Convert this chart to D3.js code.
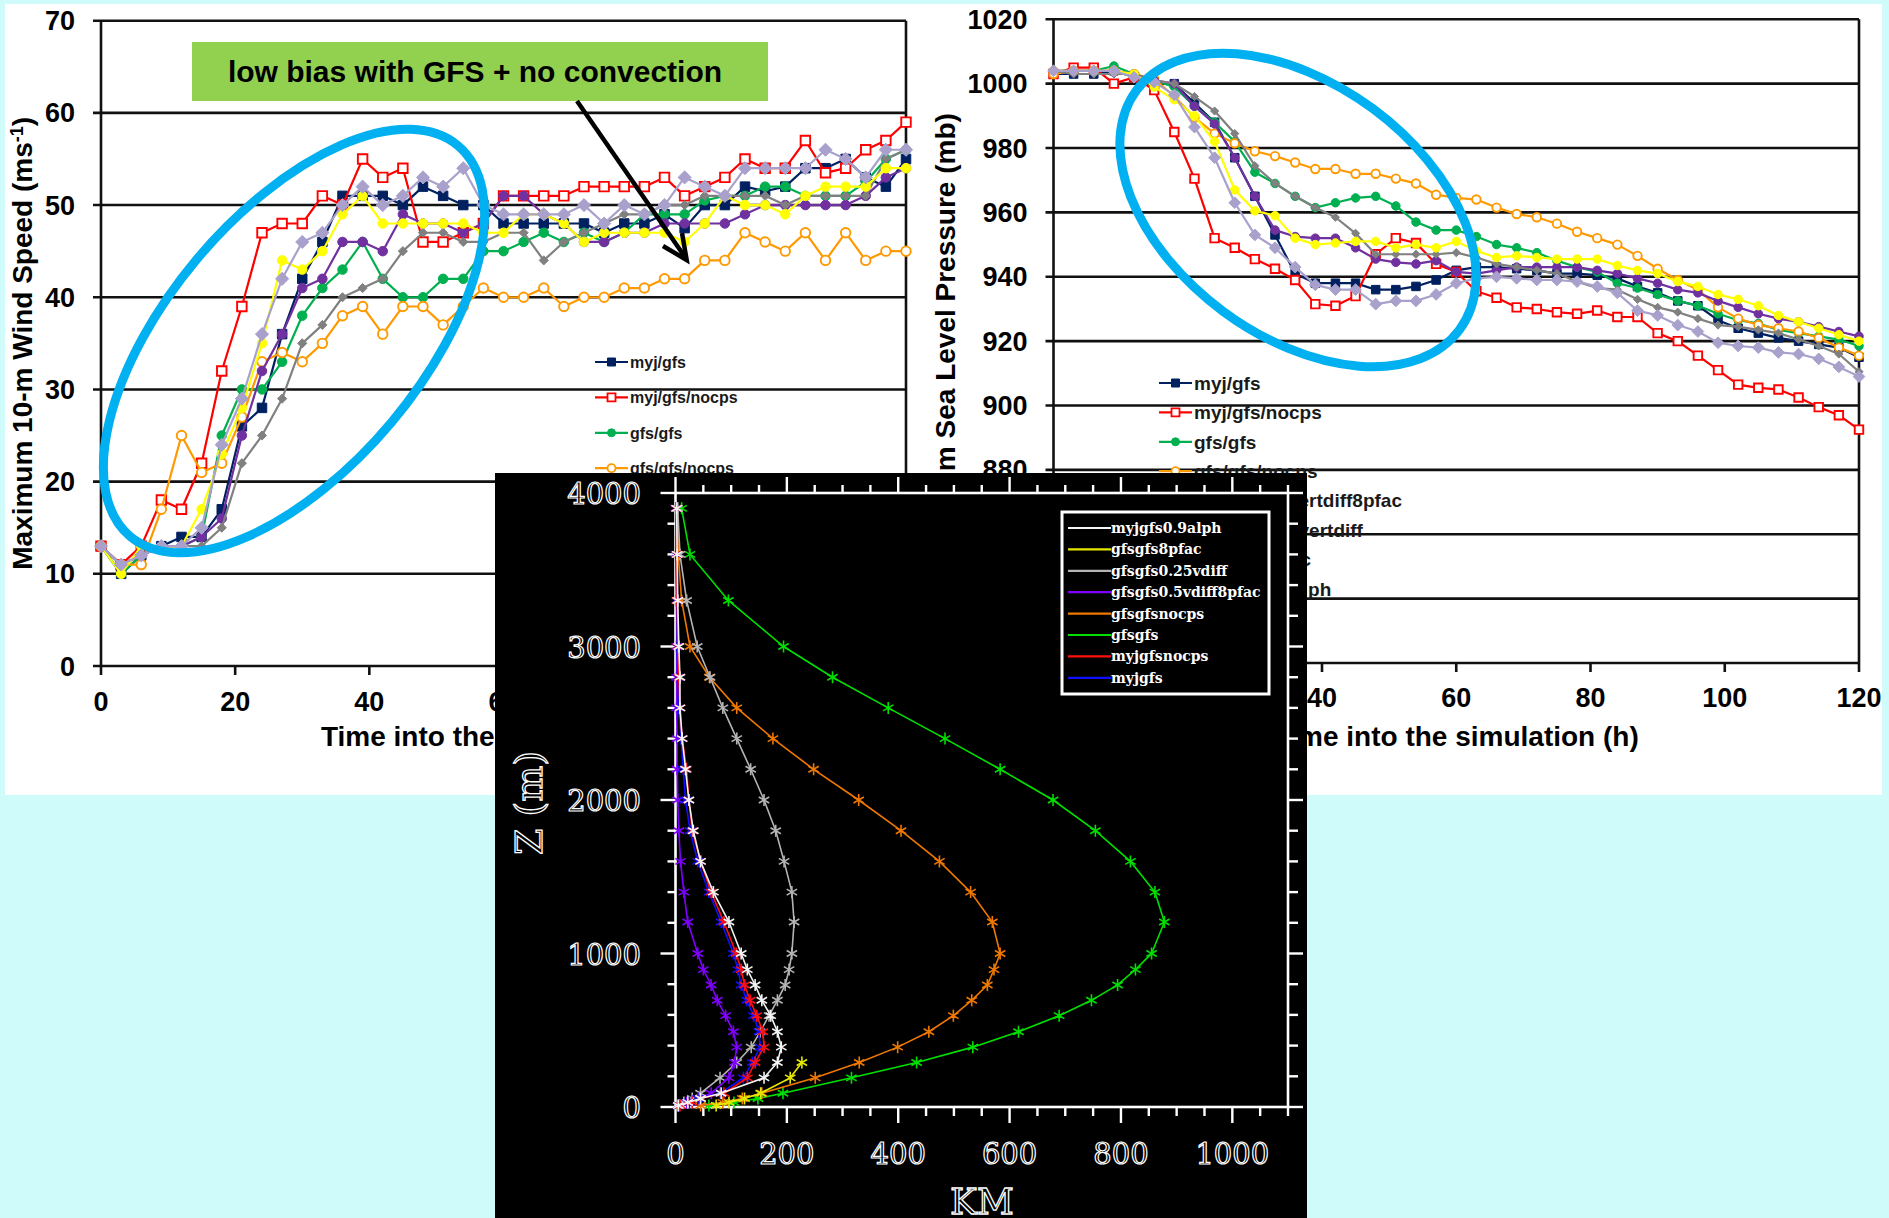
<!DOCTYPE html>
<html><head><meta charset="utf-8">
<script src="https://cdn.jsdelivr.net/npm/d3@7"></script>
<style>html,body{margin:0;padding:0;background:#d0fbfb;} svg{display:block}</style>
</head><body>
<svg id="fig" width="1889" height="1218"></svg>
<script>
// ---------- data ----------
const hours = d3.range(0, 121, 3);
const seriesNames = ["myj/gfs", "myj/gfs/nocps", "gfs/gfs", "gfs/gfs/nocps",
  "gfs/gfs/0.5vertdiff8pfac", "gfs/gfs/0.25vertdiff", "gfs/gfs/8pfac", "myj/gfs/0.9alph"];

// maximum 10-m wind speed (m/s)
const windMyjGfs = [13,10,12,13,14,14,17,26,28,36,42,46,51,51,51,50,52,51,50,50,48,
  48,48,48,48,47,48,48,49,47.5,50,50,52,51.5,52,54,54,55,53,52,55];
const windMyjGfsNocps = [13,11,13,18,17,22,32,39,47,48,48,51,50,55,53,54,46,46,47,48,51,
  51,51,51,52,52,52,52,53,51,52,53,55,54,54,57,53.5,54,56,57,59];
const windGfsGfs = [13,10,12,13,13,14,25,30,30,33,38,41,43,46,42,40,40,42,42,45,45,
  46,47,46,47,46,47,49,49,49,50.5,51,51,52,52,51,51,51,52.5,55,56];
const windGfsGfsNocps = [13,11,11,17,25,21,22,27,33,34,33,35,38,39,36,39,39,37,39,41,40,
  40,41,39,40,40,41,41,42,42,44,44,47,46,45,47,44,47,44,45,45];
const windVd05Pfac8 = [13,11,12,13,13,14,16,25,32,36,41,42,46,46,45,49,48,48,47,48,51,
  51,49,48,46,46,47,47,48,48,48,48,49,50,50,50,50,50,51,53,54];
const windVd025 = [13,11,12,13,13,13,15,22,25,29,35,37,40,41,42,45,47,47,46,46,47,
  47,44,46,47,48,49,49,50,50,51,51,51,51,50,51,51,51,51,55,56];
const windPfac8 = [13,10,13,13,13,17,23,28,35,44,43,45,49,51,48,48,48,48,48,47,47,
  49,49,48,46,47,47,47,47,46,48,51,50,50,49,51,52,52,52,54,54];
const windAlph09 = [13,11,12,13,13,15,24,29,36,42,46,47,50,52,50,51,53,52,54,50,49,
  49,49,49,50,48,50,49,50,53,52,51,54,54,54,54,56,55,53,56,56];

// minimum sea level pressure (mb)
const presMyjGfs = [1003,1003,1003,1004,1002,1000,1000,994,988,977,965,953,941,938,938,938,936,936,937,
  939,942,943,943,942.5,942,941,941,940.5,939.5,937,935,932.5,931,926.5,924,922.5,921,920,919,918,915];
const presMyjGfsNocps = [1003,1005,1005,1000,1002,998,985,970.5,952,949,945.5,942.5,939,931.5,931,934,947,952,950.5,
  944,941.5,935.5,933.5,930.5,930,929,928.5,929.5,927.5,927.5,922.5,920,915.5,911,906.5,905.5,905,902.5,899.5,897,892.5];
const presGfsGfs = [1004,1004,1004,1005.5,1003,1001,999,993,988,982,972.5,969,965,961.5,963,964.5,965,962,957,
  954.5,954.5,952.5,950,949,947.5,945,943,941.5,938,936.5,934.5,932.5,931,928.5,926.5,925.5,923.5,922.5,921.5,920.5,918.5];
const presGfsGfsNocps = [1003,1004,1004,1004,1003,1001.5,996,989.5,984.5,981.5,979,977.5,975.5,973.5,973.5,972,972,970.5,969,
  965.5,964.5,964,961.5,959.5,958.5,956.5,954,952,950,946.5,942.5,939,936,930.5,927,925,924,923,921,918,915.5];
const presVd05Pfac8 = [1004,1004,1004,1004,1003,1001,1000,993,987.5,977,965,954.5,952.5,952,952,949,945.5,944.5,944,
  945,941.5,941,942,943,943,943,943,942,941,939.5,938,936,935,932.5,930.5,928.5,927,926,924.5,923,921.5];
const presVd025 = [1004,1003,1003,1003,1003,1001,1000,996,991.5,984.5,974.5,969,965,961.5,958.5,953.5,947,947,947,
  947,947.5,946,944,943,942,941,938.5,936.5,936,933,930.5,929,927,925,924.5,923.5,922.5,920.5,918.5,916,910.5];
const presPfac8 = [1004,1004,1004,1004,1003,999,995,990,982,967,960.5,959,952,950,950.5,951,951,949,950,
  949,951,948,946,946.5,946,945.5,945.5,945.5,943.5,942,941,938.5,937,934.5,933,931,928,926,924,922,920];
const presAlph09 = [1004,1004,1004,1004,1002,1000.5,996.5,986.5,977,963,953,949,943,937.5,936,936,931.5,932.5,932.5,
  934.5,938,939.5,940,939.5,939,939,938.5,937,935,929.5,928,925,923,919.5,918.5,918,916.5,916,914.5,912,909];

const windSeries = [windMyjGfs, windMyjGfsNocps, windGfsGfs, windGfsGfsNocps, windVd05Pfac8, windVd025, windPfac8, windAlph09];
const presSeries = [presMyjGfs, presMyjGfsNocps, presGfsGfs, presGfsGfsNocps, presVd05Pfac8, presVd025, presPfac8, presAlph09];

const windTicks = [0, 10, 20, 30, 40, 50, 60, 70];
const presTicks = [820, 840, 860, 880, 900, 920, 940, 960, 980, 1000, 1020];
const hourTicks = [0, 20, 40, 60, 80, 100, 120];

// vertical profiles: height (m) vs radius (km)
const levels = [10,30,55,90,190,290,390,490,595,695,795,895,1000,1205,1400,1600,1800,2000,2200,2400,2600,2800,3000,3300,3600,3900];
const profileNames = ["myjgfs0.9alph", "gfsgfs8pfac", "gfsgfs0.25vdiff", "gfsgfs0.5vdiff8pfac", "gfsgfsnocps", "gfsgfs", "myjgfsnocps", "myjgfs"];
const kmAlph09 = [5,22,45,82,159,183,190,183,171,155,143,129,118,96,68,45,32,24,18,12,8,8,6,4,3,2];
const kmPfac8 = [73,96,124,153,206,227];
const kmVd025 = [5,15,30,45,80,110,136,152,168,183,197,204,209,213,209,195,180,159,135,110,85,62,39,20,8,4];
const kmVd05Pfac8 = [5,20,40,64,96,106,110,104,90,75,64,50,40,22,15,9,6,4,3,3,2,2,2,2,1,1];
const kmGfsNocps = [45,85,120,155,251,330,399,455,499,532,560,572,583,569,530,474,405,329,248,175,110,61,26,11,5,3];
const kmGfs = [60,105,148,193,316,433,534,616,689,747,794,826,855,878,861,817,754,678,583,484,382,282,194,95,26,11];
const kmMyjNocps = [8,30,45,87,129,143,159,157,146,134,124,118,109,87,64,45,30,24,20,12,8,6,4,3,2,1];
const kmMyj = [6,25,40,80,122,138,152,150,140,128,118,112,104,82,60,40,26,18,14,10,6,4,3,2,1,1];
const profileSeries = [kmAlph09, kmPfac8, kmVd025, kmVd05Pfac8, kmGfsNocps, kmGfs, kmMyjNocps, kmMyj];
const kmTicks = [0, 200, 400, 600, 800, 1000];
const zTicks = [0, 1000, 2000, 3000, 4000];

// ---------- styles ----------
const seriesStyle = [
  {color: "#002060", shape: "square", open: false},
  {color: "#ff0000", shape: "square", open: true},
  {color: "#00b050", shape: "circle", open: false},
  {color: "#ff9900", shape: "circle", open: true},
  {color: "#7030a0", shape: "circle", open: false},
  {color: "#808080", shape: "diamond", open: false, scale: 0.8},
  {color: "#ffff00", shape: "circle", open: false},
  {color: "#a9a1cc", shape: "diamond", open: false, scale: 1.15}
];
const profileColor = ["#f4f4f4", "#e6e600", "#b4b4b4", "#8000ff", "#f07800", "#00e000", "#ff1010", "#1010ff"];
const drawOrder = [0, 1, 2, 3, 4, 5, 6, 7];

const SANS = "'Liberation Sans', Arial, sans-serif";
const svg = d3.select("#fig");

svg.append("rect").attr("width", 1889).attr("height", 1218).attr("fill", "#d0fbfb");
svg.append("rect").attr("x", 5).attr("y", 4).attr("width", 1877).attr("height", 791).attr("fill", "#ffffff");

function markerPath(shape, s) {
  const h = s / 2;
  if (shape === "square") return `M${-h},${-h}h${s}v${s}h${-s}Z`;
  if (shape === "diamond") return `M0,${-h * 1.2}L${h * 1.2},0L0,${h * 1.2}L${-h * 1.2},0Z`;
  return d3.symbol(d3.symbolCircle, Math.PI * h * h)();
}

function lineChart(o) {
  const g = svg.append("g");
  const x = d3.scaleLinear([0, 120], [o.x0, o.x1]);
  const y = d3.scaleLinear(o.yDomain, [o.yBottom, o.yTop]);
  // gridlines
  o.yTicks.forEach(v => {
    g.append("line").attr("x1", o.x0 - 8).attr("x2", o.x1).attr("y1", y(v)).attr("y2", y(v))
      .attr("stroke", "#111").attr("stroke-width", 2.6);
    g.append("text").attr("x", o.x0 - 26).attr("y", y(v) + 9.5).attr("text-anchor", "end")
      .attr("font-family", SANS).attr("font-weight", "bold").attr("font-size", 27).attr("fill", "#000").text(v);
  });
  g.append("line").attr("x1", o.x0).attr("x2", o.x0).attr("y1", o.yTop).attr("y2", o.yBottom)
    .attr("stroke", "#111").attr("stroke-width", 2.6);
  g.append("line").attr("x1", o.x1).attr("x2", o.x1).attr("y1", o.yTop).attr("y2", o.yBottom)
    .attr("stroke", "#111").attr("stroke-width", 2.6);
  hourTicks.forEach(h => {
    g.append("line").attr("x1", x(h)).attr("x2", x(h)).attr("y1", o.yBottom).attr("y2", o.yBottom + 9)
      .attr("stroke", "#111").attr("stroke-width", 2.6);
    g.append("text").attr("x", x(h)).attr("y", o.yBottom + o.xLabelDy).attr("text-anchor", "middle")
      .attr("font-family", SANS).attr("font-weight", "bold").attr("font-size", 27).attr("fill", "#000").text(h);
  });
  g.append("text").attr("x", (o.x0 + o.x1) / 2).attr("y", 746).attr("text-anchor", "middle")
    .attr("font-family", SANS).attr("font-weight", "bold").attr("font-size", 28).attr("fill", "#000")
    .text("Time into the simulation (h)");
  const yt = g.append("text").attr("transform", `translate(${o.titleX},${(o.yTop + o.yBottom) / 2}) rotate(-90)`)
    .attr("text-anchor", "middle").attr("font-family", SANS).attr("font-weight", "bold")
    .attr("font-size", 28).attr("fill", "#000");
  o.yTitle(yt);

  // legend
  seriesNames.forEach((name, i) => {
    const st = seriesStyle[i];
    const ly = o.legY + i * o.legDy;
    g.append("line").attr("x1", o.legX0).attr("x2", o.legX1).attr("y1", ly).attr("y2", ly)
      .attr("stroke", st.color).attr("stroke-width", 2.2);
    g.append("path").attr("d", markerPath(st.shape, o.legMark * (st.scale || 1)))
      .attr("transform", `translate(${(o.legX0 + o.legX1) / 2},${ly})`)
      .attr("fill", st.open ? "#fff" : st.color).attr("stroke", st.color).attr("stroke-width", st.open ? 1.8 : 1);
    g.append("text").attr("x", o.legX1 + 2).attr("y", ly + o.legFont * 0.36)
      .attr("font-family", SANS).attr("font-weight", "bold").attr("font-size", o.legFont).attr("fill", "#1a1a1a")
      .text(name);
  });

  // series
  const line = d3.line().x((d, i) => x(hours[i])).y(d => y(d));
  drawOrder.forEach(i => {
    const st = seriesStyle[i];
    const vals = o.series[i];
    g.append("path").attr("d", line(vals)).attr("fill", "none")
      .attr("stroke", st.color).attr("stroke-width", 2.2).attr("stroke-linejoin", "round");
    g.append("g").selectAll("path").data(vals).join("path")
      .attr("d", markerPath(st.shape, o.mark * (st.scale || 1)))
      .attr("transform", (d, k) => `translate(${x(hours[k])},${y(d)})`)
      .attr("fill", st.open ? "#fff" : st.color).attr("stroke", st.color)
      .attr("stroke-width", st.open ? 1.9 : 1);
  });
}

lineChart({
  x0: 101, x1: 906, yTop: 20.7, yBottom: 666, yDomain: [0, 70], yTicks: windTicks,
  series: windSeries, xLabelDy: 45, mark: 9.5, titleX: 32,
  yTitle: t => {
    t.append("tspan").text("Maximum 10-m Wind Speed (ms");
    t.append("tspan").attr("dy", -9).attr("font-size", 18).text("-1");
    t.append("tspan").attr("dy", 9).text(")");
  },
  legX0: 595, legX1: 628, legY: 362, legDy: 35.4, legFont: 16, legMark: 8
});

lineChart({
  x0: 1053.5, x1: 1859, yTop: 19.3, yBottom: 663, yDomain: [820, 1020], yTicks: presTicks,
  series: presSeries, xLabelDy: 44, mark: 8.5, titleX: 955,
  yTitle: t => t.text("Minimum Sea Level Pressure (mb)"),
  legX0: 1159, legX1: 1192, legY: 383, legDy: 29.4, legFont: 19, legMark: 8
});

// annotation
svg.append("rect").attr("x", 192).attr("y", 42).attr("width", 576).attr("height", 59).attr("fill", "#92d050");
svg.append("text").attr("x", 475).attr("y", 82).attr("text-anchor", "middle")
  .attr("font-family", SANS).attr("font-weight", "bold").attr("font-size", 30).attr("fill", "#000")
  .text("low bias with GFS + no convection");
svg.append("line").attr("x1", 577).attr("y1", 101).attr("x2", 685).attr("y2", 257)
  .attr("stroke", "#000").attr("stroke-width", 4.5);
svg.append("polyline").attr("points", "663,246 686.7,260 682,233").attr("fill", "none")
  .attr("stroke", "#000").attr("stroke-width", 4.5).attr("stroke-linejoin", "miter");

// highlight rings
svg.append("ellipse").attr("cx", 0).attr("cy", 0).attr("rx", 255).attr("ry", 127)
  .attr("transform", "translate(294,341) rotate(-50)")
  .attr("fill", "none").attr("stroke", "#00b0f0").attr("stroke-width", 9);
svg.append("ellipse").attr("cx", 0).attr("cy", 0).attr("rx", 201).attr("ry", 126)
  .attr("transform", "translate(1298,210) rotate(36.5)")
  .attr("fill", "none").attr("stroke", "#00b0f0").attr("stroke-width", 9);

// ---------- radius profile panel ----------
const pg = svg.append("g");
pg.append("rect").attr("x", 495).attr("y", 473).attr("width", 812).attr("height", 745).attr("fill", "#000");
const xB = d3.scaleLinear([0, 1100], [675.5, 1288]);
const yB = d3.scaleLinear([0, 4000], [1107, 493]);
const W = "#ffffff";
pg.append("rect").attr("x", xB(0)).attr("y", yB(4000)).attr("width", xB(1100) - xB(0)).attr("height", yB(0) - yB(4000))
  .attr("fill", "none").attr("stroke", W).attr("stroke-width", 2.6);
d3.range(0, 1101, 50).forEach(k => {
  const major = k % 200 === 0;
  pg.append("line").attr("x1", xB(k)).attr("x2", xB(k)).attr("y1", yB(0)).attr("y2", yB(0) + (major ? 16 : 9))
    .attr("stroke", W).attr("stroke-width", 2.4);
  pg.append("line").attr("x1", xB(k)).attr("x2", xB(k)).attr("y1", yB(4000)).attr("y2", yB(4000) - (major ? 16 : 8))
    .attr("stroke", W).attr("stroke-width", 2.4);
});
d3.range(0, 4001, 200).forEach(z => {
  const major = z % 1000 === 0;
  pg.append("line").attr("x1", xB(0)).attr("x2", xB(0) - (major ? 15 : 8)).attr("y1", yB(z)).attr("y2", yB(z))
    .attr("stroke", W).attr("stroke-width", 2.4);
  pg.append("line").attr("x1", xB(1100)).attr("x2", xB(1100) + (major ? 15 : 10)).attr("y1", yB(z)).attr("y2", yB(z))
    .attr("stroke", W).attr("stroke-width", 2.4);
});
const SERIF = "'DejaVu Serif', serif";
zTicks.forEach(z => pg.append("text").attr("x", 641).attr("y", yB(z) + 11).attr("text-anchor", "end")
  .attr("font-family", SERIF).attr("font-size", 29).attr("fill", "none").attr("stroke", W).attr("stroke-width", 1.2)
  .text(z));
kmTicks.forEach(k => pg.append("text").attr("x", xB(k)).attr("y", 1164).attr("text-anchor", "middle")
  .attr("font-family", SERIF).attr("font-size", 29).attr("fill", "none").attr("stroke", W).attr("stroke-width", 1.2)
  .text(k));
pg.append("text").attr("x", 982).attr("y", 1214).attr("text-anchor", "middle")
  .attr("font-family", SERIF).attr("font-size", 36).attr("fill", "none").attr("stroke", W).attr("stroke-width", 1.3)
  .text("KM");
pg.append("text").attr("transform", "translate(542,803) rotate(-90)").attr("text-anchor", "middle")
  .attr("font-family", SERIF).attr("font-size", 38).attr("fill", "none").attr("stroke", W).attr("stroke-width", 1.3)
  .text("Z (m)");

const pline = d3.line().x(d => xB(d[0])).y(d => yB(d[1]));
const star = "M0,-6V6M-5.2,-3L5.2,3M-5.2,3L5.2,-3";
[5, 4, 2, 1, 3, 7, 6, 0].forEach(i => {
  const pts = profileSeries[i].map((km, j) => [km, levels[j]]);
  pg.append("path").attr("d", pline(pts)).attr("fill", "none").attr("stroke", profileColor[i]).attr("stroke-width", 1.6);
  pg.append("g").selectAll("path").data(pts).join("path").attr("d", star)
    .attr("transform", d => `translate(${xB(d[0])},${yB(d[1])})`)
    .attr("fill", "none").attr("stroke", profileColor[i]).attr("stroke-width", 1.6);
});

// profile legend
pg.append("rect").attr("x", 1062).attr("y", 512).attr("width", 207).attr("height", 182)
  .attr("fill", "#000").attr("stroke", W).attr("stroke-width", 3);
profileNames.forEach((name, i) => {
  const ly = 528 + i * 21.4;
  pg.append("line").attr("x1", 1068).attr("x2", 1111).attr("y1", ly).attr("y2", ly)
    .attr("stroke", profileColor[i]).attr("stroke-width", 2.2);
  pg.append("text").attr("x", 1111).attr("y", ly + 5).attr("font-family", SERIF).attr("font-weight", "bold")
    .attr("font-size", 14).attr("fill", W).text(name);
});
</script>
</body></html>
